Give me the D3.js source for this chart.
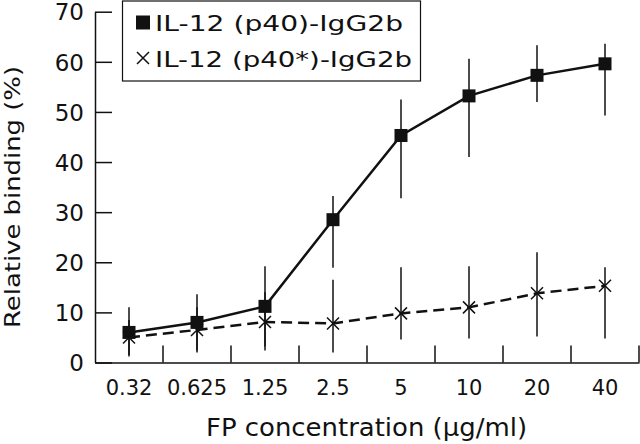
<!DOCTYPE html>
<html><head><meta charset="utf-8">
<script src="https://cdn.jsdelivr.net/npm/d3@7"></script>
<style>body{margin:0;background:#fff}svg{display:block}text{font-family:"DejaVu Sans","Liberation Sans",sans-serif;fill:#111}</style>
</head><body>
<svg id="c" width="640" height="444"></svg>
<script>
const categories = ["0.32","0.625","1.25","2.5","5","10","20","40"];
const p40 = [6.0, 8.0, 11.2, 28.5, 45.3, 53.2, 57.3, 59.6];
const p40Hi = [11.0, 13.6, 19.2, 33.2, 52.5, 60.6, 63.3, 63.6];
const p40Lo = [1.2, 2.4, 3.2, 18.9, 32.8, 41.0, 52.0, 49.3];
const p40s = [5.0, 6.5, 8.1, 7.8, 9.8, 11.0, 13.8, 15.3];
const p40sHi = [8.5, 11.0, 14.0, 16.5, 19.0, 19.2, 22.0, 19.0];
const p40sLo = [1.5, 2.0, 2.4, 2.0, 4.6, 4.8, 5.2, 4.8];
const yTicks = [0,10,20,30,40,50,60,70];
const seriesNames = ["IL-12 (p40)-IgG2b", "IL-12 (p40*)-IgG2b"];

const svg = d3.select("#c");
const x = d3.scaleBand().domain(categories).range([95, 639]).padding(0);
const y = d3.scaleLinear().domain([0, 70]).range([362.5, 11.7]);
const cx = c => x(c) + x.bandwidth()/2;
const FONT = "DejaVu Sans, sans-serif";

// Y axis
const ya = svg.append("g").attr("transform","translate(95,0)")
  .call(d3.axisLeft(y).tickValues(yTicks).tickSizeInner(-17).tickSizeOuter(0).tickPadding(11));
ya.select(".domain").attr("stroke","#111").attr("stroke-width",1.5);
ya.selectAll(".tick line").attr("stroke","#111").attr("stroke-width",1.5);
ya.selectAll(".tick text").attr("font-size",23).attr("fill","#111").style("font-family",FONT)
  .attr("dy","0.36em");

// X axis
const xa = svg.append("g").attr("transform","translate(0,362.5)")
  .call(d3.axisBottom(x).tickSize(0).tickPadding(18));
xa.select(".domain").attr("stroke","#111").attr("stroke-width",1.5);
xa.selectAll(".tick text").attr("font-size",21).attr("fill","#111").style("font-family",FONT);
svg.append("g").selectAll("line").data(categories).join("line")
  .attr("x1", c => x(c)+x.bandwidth()).attr("x2", c => x(c)+x.bandwidth())
  .attr("y1", y(0)).attr("y2", y(0)-17).attr("stroke","#111").attr("stroke-width",1.5);

// Titles
svg.append("text").attr("x", 366.5).attr("y", 436).attr("text-anchor","middle")
  .attr("font-size",24).attr("textLength",321).attr("lengthAdjust","spacingAndGlyphs")
  .text("FP concentration (μg/ml)");
svg.append("text").attr("transform","translate(20,197) rotate(-90)").attr("text-anchor","middle")
  .attr("font-size",22).attr("textLength",262).attr("lengthAdjust","spacingAndGlyphs")
  .text("Relative binding (%)");

// Error bars
const eb = (lo, hi) => svg.append("g").selectAll("line").data(categories).join("line")
  .attr("x1", c => cx(c)).attr("x2", c => cx(c))
  .attr("y1", (c,i) => y(lo[i])).attr("y2", (c,i) => y(hi[i]))
  .attr("stroke","#111").attr("stroke-width",1.5);
eb(p40Lo, p40Hi);
eb(p40sLo, p40sHi);

// Lines
const line = vals => d3.line().x((c) => cx(c)).y((c,i) => y(vals[i]))(categories);
svg.append("path").attr("d", line(p40s)).attr("fill","none").attr("stroke","#111")
  .attr("stroke-width",2.5).attr("stroke-dasharray","11,6");
svg.append("path").attr("d", line(p40)).attr("fill","none").attr("stroke","#111").attr("stroke-width",2.5);

// Markers
const ms = 13;
svg.append("g").selectAll("rect").data(categories).join("rect")
  .attr("x", c => cx(c)-ms/2).attr("y", (c,i) => y(p40[i])-ms/2)
  .attr("width", ms).attr("height", ms).attr("fill","#111");
const xs = 6;
const cross = (px, py) => `M${px-xs},${py-xs}L${px+xs},${py+xs}M${px-xs},${py+xs}L${px+xs},${py-xs}`;
svg.append("g").selectAll("path").data(categories).join("path")
  .attr("d", (c,i) => cross(cx(c), y(p40s[i])))
  .attr("stroke","#111").attr("stroke-width",1.5).attr("fill","none");

// Legend
const lg = svg.append("g");
lg.append("rect").attr("x",122.5).attr("y",1).attr("width",298).attr("height",80)
  .attr("fill","#fff").attr("stroke","#111").attr("stroke-width",1.2);
lg.append("rect").attr("x",136).attr("y",15.5).attr("width",14).attr("height",14).attr("fill","#111");
lg.append("path").attr("d", `M137,52L149,64M137,64L149,52`).attr("stroke","#111").attr("stroke-width",1.5);
const legendLen = [248, 257];
lg.selectAll("text.l").data(seriesNames).join("text").attr("class","l")
  .attr("x",155).attr("y",(d,i) => 31 + i*35.5).attr("font-size",22)
  .attr("textLength",(d,i) => legendLen[i]).attr("lengthAdjust","spacingAndGlyphs").text(d => d);
</script>
</body></html>
